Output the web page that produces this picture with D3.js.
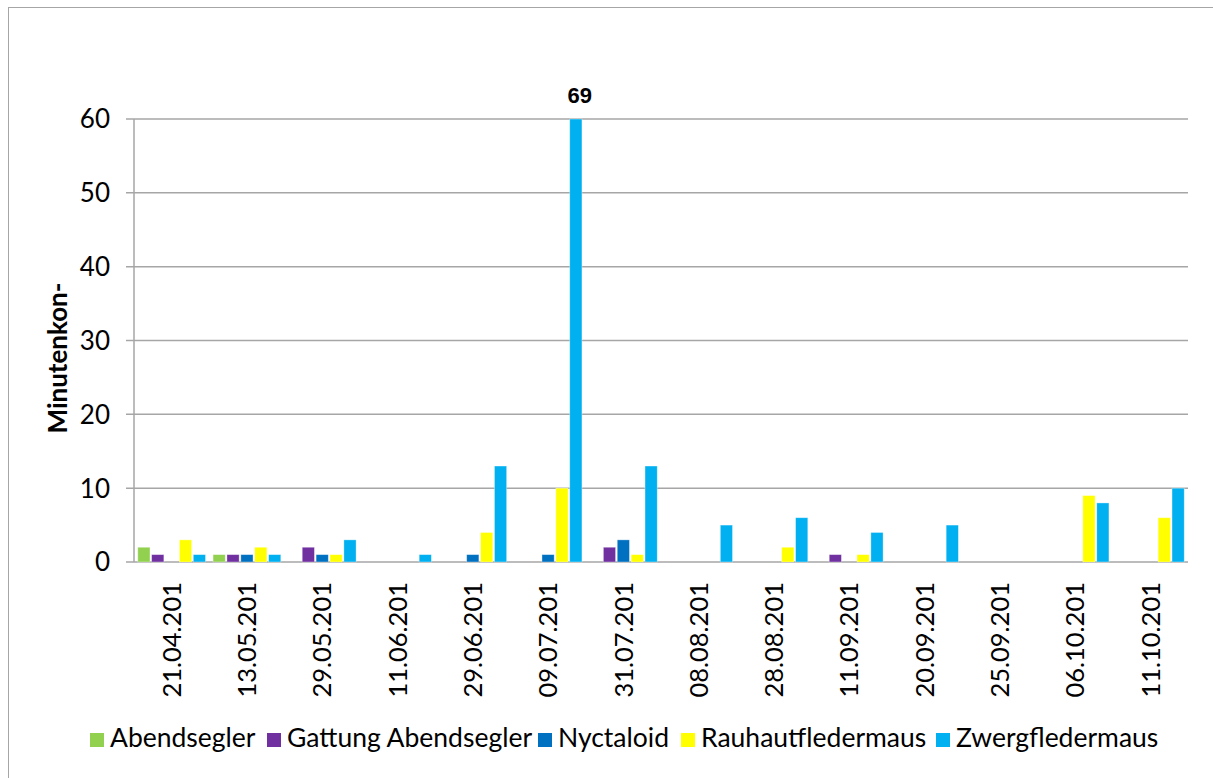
<!DOCTYPE html>
<html>
<head>
<meta charset="utf-8">
<script src="https://cdnjs.cloudflare.com/ajax/libs/d3/7.8.5/d3.min.js"></script>
<style>
  html, body { margin: 0; padding: 0; background: #fff; }
  svg { display: block; }
</style>
</head>
<body>
<svg id="chart" width="1213" height="778"></svg>
<script>
// ---- data ----
const categories = ["21.04.201", "13.05.201", "29.05.201", "11.06.201", "29.06.201", "09.07.201", "31.07.201",
  "08.08.201", "28.08.201", "11.09.201", "20.09.201", "25.09.201", "06.10.201", "11.10.201"];
const seriesNames = ["Abendsegler", "Gattung Abendsegler", "Nyctaloid", "Rauhautfledermaus", "Zwergfledermaus"];
const abendsegler        = [2, 1, 0, 0, 0, 0, 0, 0, 0, 0, 0, 0, 0, 0];
const gattungAbendsegler = [1, 1, 2, 0, 0, 0, 2, 0, 0, 1, 0, 0, 0, 0];
const nyctaloid          = [0, 1, 1, 0, 1, 1, 3, 0, 0, 0, 0, 0, 0, 0];
const rauhautfledermaus  = [3, 2, 1, 0, 4, 10, 1, 0, 2, 1, 0, 0, 9, 6];
const zwergfledermaus    = [1, 1, 3, 1, 13, 69, 13, 5, 6, 4, 5, 0, 8, 10];
const yTicks = [0, 10, 20, 30, 40, 50, 60];
const yAxisTitle = "Minutenkon-";

const seriesValues = [abendsegler, gattungAbendsegler, nyctaloid, rauhautfledermaus, zwergfledermaus];
const colors = ["#92D050", "#7030A0", "#0070C0", "#FFFF00", "#00B0F0"];

// ---- layout ----
const svg = d3.select("#chart");
const pLeft = 134, pRight = 1188, pTop = 119, pBottom = 562;
const FONT = "Lato, 'Liberation Sans', sans-serif";

// outer border (only top/left visible)
svg.append("rect").attr("x", 8.5).attr("y", 7.5).attr("width", 1300).attr("height", 900)
  .attr("fill", "none").attr("stroke", "#A6A6A6").attr("stroke-width", 1);

const x0 = d3.scaleBand().domain(categories).range([pLeft, pRight]).paddingInner(0.1).paddingOuter(0.05);
const x1 = d3.scaleBand().domain(d3.range(seriesNames.length)).range([0, x0.bandwidth()]).paddingInner(0.12);
const y = d3.scaleLinear().domain([0, 60]).range([pBottom, pTop]);

// gridlines
svg.append("g").selectAll("line").data(yTicks).join("line")
  .attr("x1", pLeft - 8).attr("x2", pRight)
  .attr("y1", d => y(d)).attr("y2", d => y(d))
  .attr("stroke", "#A6A6A6").attr("stroke-width", 1.5);

// y axis line
svg.append("line").attr("x1", pLeft).attr("x2", pLeft).attr("y1", pTop).attr("y2", pBottom)
  .attr("stroke", "#A6A6A6").attr("stroke-width", 1.5);

// y tick labels
svg.append("g").selectAll("text").data(yTicks).join("text")
  .attr("x", 110).attr("y", d => y(d)).attr("dy", "0.36em")
  .attr("text-anchor", "end").attr("font-family", FONT).attr("font-size", 26).attr("fill", "#000")
  .text(d => d);

// bars
const groups = svg.append("g").selectAll("g").data(seriesValues).join("g")
  .attr("fill", (d, i) => colors[i]);
groups.each(function(vals, si) {
  d3.select(this).selectAll("rect").data(vals.map((v, ci) => ({v, ci})).filter(d => d.v > 0)).join("rect")
    .attr("x", d => x0(categories[d.ci]) + x1(si))
    .attr("width", x1.bandwidth())
    .attr("y", d => y(Math.min(d.v, 60)))
    .attr("height", d => pBottom - y(Math.min(d.v, 60)))
    .attr("stroke", "#ffffff").attr("stroke-opacity", 0.45).attr("stroke-width", 0.8);
});

// overflow label
seriesValues.forEach((vals, si) => {
  vals.forEach((v, ci) => {
    if (v > 60) {
      svg.append("text")
        .attr("x", x0(categories[ci]) + x1(si) + x1.bandwidth() / 2 + 4)
        .attr("y", 103)
        .attr("text-anchor", "middle")
        .attr("font-family", "'Liberation Sans', Arial, sans-serif")
        .attr("font-weight", "bold").attr("font-size", 22)
        .text(v);
    }
  });
});

// x labels
svg.append("g").selectAll("text").data(categories).join("text")
  .attr("transform", d => `translate(${x0(d) + x0.bandwidth() / 2},582) rotate(-90)`)
  .attr("dy", "0.36em").attr("text-anchor", "end")
  .attr("font-family", FONT).attr("font-size", 25.5).attr("fill", "#000")
  .text(d => d);

// y axis title
svg.append("text")
  .attr("transform", "translate(67,358) rotate(-90)")
  .attr("text-anchor", "middle")
  .attr("font-family", FONT).attr("font-weight", "bold").attr("font-size", 26)
  .text(yAxisTitle);

// legend
const legendX = [90, 267, 538, 681, 936];
const lg = svg.append("g").selectAll("g").data(seriesNames).join("g")
  .attr("transform", (d, i) => `translate(${legendX[i]},0)`);
lg.append("rect").attr("x", 0).attr("y", 733).attr("width", 14).attr("height", 14)
  .attr("fill", (d, i) => colors[i]);
lg.append("text").attr("x", 20).attr("y", 747)
  .attr("font-family", FONT).attr("font-size", 26.5).attr("fill", "#000")
  .text(d => d);
</script>
</body>
</html>
